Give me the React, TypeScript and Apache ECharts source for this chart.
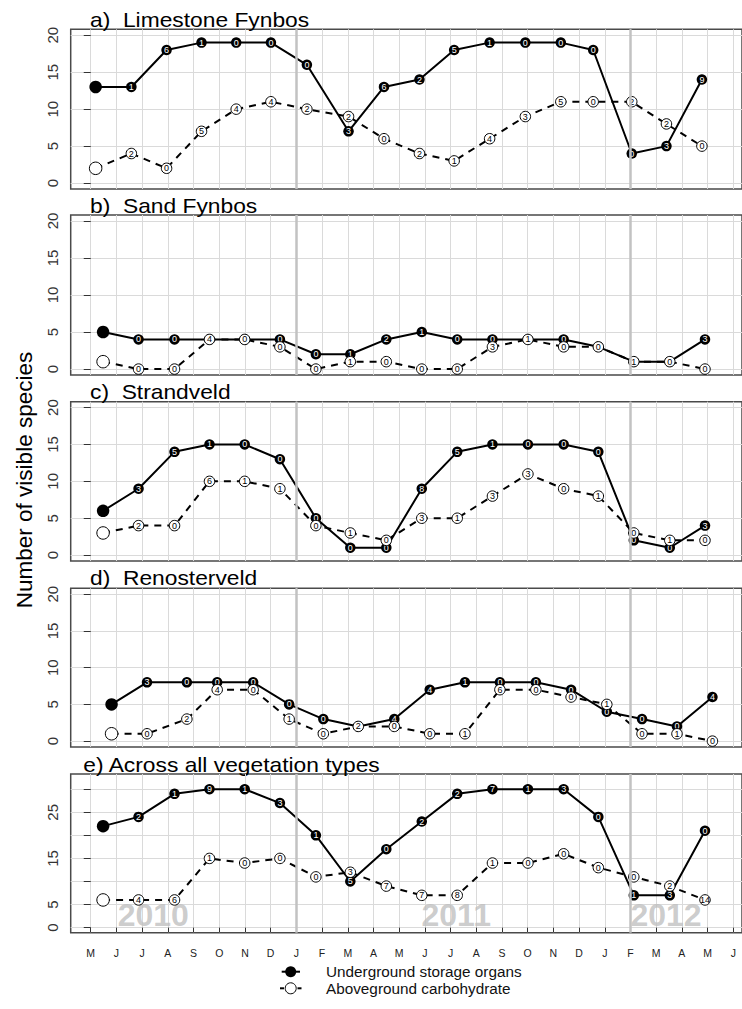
import React, { useEffect, useRef } from "react";
import * as echarts from "echarts";

const FONT = "'Liberation Sans', Arial, Helvetica, sans-serif";

// x axis: months from May 2010 (0) to June 2012 (25)
const monthLabels = ["M","J","J","A","S","O","N","D","J","F","M","A","M","J","J","A","S","O","N","D","J","F","M","A","M","J"];
const monthTicks = monthLabels.map((_, i) => i);
const yearLines = [8, 21];
const yearNames = ["2010", "2011", "2012"];
const yearPos = [1.05, 12.87, 21.0];

// sampling dates (month position)
const datesA = [0.19, 1.58, 2.95, 4.31, 5.66, 7.01, 8.41, 10.03, 11.41, 12.79, 14.14, 15.52, 16.91, 18.29, 19.55, 21.05, 22.40, 23.78];
const datesBCE = [0.48, 1.86, 3.26, 4.62, 5.99, 7.36, 8.76, 10.10, 11.50, 12.88, 14.26, 15.63, 17.01, 18.40, 19.75, 21.13, 22.53, 23.90];
const datesD = [0.81, 2.19, 3.74, 4.92, 6.32, 7.72, 9.05, 10.41, 11.81, 13.19, 14.56, 15.92, 17.32, 18.69, 20.08, 21.45, 22.81, 24.19];

// a) Limestone Fynbos
const usoA = [13, 13, 18, 19, 19, 19, 16, 7, 13, 14, 18, 19, 19, 19, 18, 4, 5, 14];
const usoLabA = [null, 1, 6, 1, 0, 0, 0, 3, 6, 2, 5, 1, 0, 0, 0, 0, 3, 9];
const agcA = [2, 4, 2, 7, 10, 11, 10, 9, 6, 4, 3, 6, 9, 11, 11, 11, 8, 5];
const agcLabA = [null, 2, 0, 5, 4, 4, 2, 2, 0, 2, 1, 4, 3, 5, 0, 2, 2, 0];

// b) Sand Fynbos
const usoB = [5, 4, 4, 4, 4, 4, 2, 2, 4, 5, 4, 4, 4, 4, 3, 1, 1, 4];
const usoLabB = [null, 0, 0, 0, 0, 0, 0, 1, 2, 1, 0, 0, 1, 0, 0, 1, 0, 3];
const agcB = [1, 0, 0, 4, 4, 3, 0, 1, 1, 0, 0, 3, 4, 3, 3, 1, 1, 0];
const agcLabB = [null, 0, 0, 4, 0, 0, 0, 1, 0, 0, 0, 3, 1, 0, 0, 1, 0, 0];

// c) Strandveld
const usoC = [6, 9, 14, 15, 15, 13, 5, 1, 1, 9, 14, 15, 15, 15, 14, 2, 1, 4];
const usoLabC = [null, 3, 5, 1, 0, 0, 0, 0, 0, 8, 5, 1, 0, 0, 0, 0, 0, 3];
const agcC = [3, 4, 4, 10, 10, 9, 4, 3, 2, 5, 5, 8, 11, 9, 8, 3, 2, 2];
const agcLabC = [null, 2, 0, 6, 1, 1, 0, 1, 0, 3, 1, 3, 3, 0, 1, 0, 1, 0];

// d) Renosterveld
const usoD = [5, 8, 8, 8, 8, 5, 3, 2, 3, 7, 8, 8, 8, 7, 4, 3, 2, 6];
const usoLabD = [null, 3, 0, 0, 0, 0, 0, 0, 4, 4, 1, 0, 0, 0, 0, 0, 0, 4];
const agcD = [1, 1, 3, 7, 7, 3, 1, 2, 2, 1, 1, 7, 7, 6, 5, 1, 1, 0];
const agcLabD = [null, 0, 2, 4, 0, 1, 0, 2, 0, 0, 1, 6, 0, 0, 1, 0, 1, 0];

// e) Across all vegetation types
const usoE = [22, 24, 29, 30, 30, 27, 20, 10, 17, 23, 29, 30, 30, 30, 24, 7, 7, 21];
const usoLabE = [null, 2, 1, 9, 1, 3, 1, 5, 0, 2, 2, 7, 1, 3, 0, 1, 3, 0];
const agcE = [6, 6, 6, 15, 14, 15, 11, 12, 9, 7, 7, 14, 14, 16, 13, 11, 9, 6];
const agcLabE = [null, 4, 6, 1, 0, 0, 0, 3, 7, 7, 8, 1, 0, 0, 0, 0, 2, 14];

const titles = ["a)  Limestone Fynbos", "b)  Sand Fynbos", "c)  Strandveld", "d)  Renosterveld", "e) Across all vegetation types"];
const yTicksSmall = [0, 5, 10, 15, 20];
const yTicksAll = [0, 5, 10, 15, 20, 25, 30];
const yLabelsAll = [0, 5, 15, 25];

const panels = [
  { dates: datesA, uso: usoA, usoLab: usoLabA, agc: agcA, agcLab: agcLabA },
  { dates: datesBCE, uso: usoB, usoLab: usoLabB, agc: agcB, agcLab: agcLabB },
  { dates: datesBCE, uso: usoC, usoLab: usoLabC, agc: agcC, agcLab: agcLabC },
  { dates: datesD, uso: usoD, usoLab: usoLabD, agc: agcD, agcLab: agcLabD },
  { dates: datesBCE, uso: usoE, usoLab: usoLabE, agc: agcE, agcLab: agcLabE },
];

const gridTops = [29.3, 215, 401.7, 588.3, 774];
const gridHeights = [159.7, 160, 159.3, 158.7, 158.7];
const titleYs = [20.5, 206.5, 392, 578.5, 765];
const titleXs = [90, 90, 90, 90, 83.3];

export default function App() {
  const ref = useRef<HTMLDivElement>(null);
  useEffect(() => {
    if (!ref.current) return;
    const chart = echarts.init(ref.current, undefined, { renderer: "svg" });
    const grid: any[] = [];
    const xAxis: any[] = [];
    const yAxis: any[] = [];
    const series: any[] = [];
    panels.forEach((p, i) => {
      const isE = i === 4;
      grid.push({
        left: 70.7,
        top: gridTops[i],
        width: 680,
        height: gridHeights[i],
        show: true,
        borderColor: "#4a4a4a",
        borderWidth: 1.5,
        backgroundColor: "transparent",
      });
      xAxis.push({
        type: "value",
        gridIndex: i,
        min: -0.78,
        max: 25.34,
        axisLine: { show: false },
        axisTick: { show: isE, customValues: monthTicks, length: 5, lineStyle: { color: "#333", width: 1 } },
        axisLabel: {
          show: isE,
          customValues: monthTicks,
          formatter: (v: number) => monthLabels[Math.round(v)] ?? "",
          fontSize: 10.5,
          fontFamily: FONT,
          color: "#222",
          margin: 15,
        },
        splitLine: { show: true, lineStyle: { color: "#dadada", width: 1 } },
      });
      const ticks = isE ? yTicksAll : yTicksSmall;
      yAxis.push({
        type: "value",
        gridIndex: i,
        min: isE ? -1.1 : -0.8,
        max: isE ? 33.3 : 20.8,
        axisLine: { show: false },
        axisTick: { show: true, customValues: ticks, length: 7, lineStyle: { color: "#333", width: 1 } },
        axisLabel: {
          customValues: isE ? yLabelsAll : ticks,
          rotate: 90,
          fontSize: 15,
          fontFamily: FONT,
          color: "#333",
          margin: 11,
        },
        splitLine: { show: true, lineStyle: { color: "#dadada", width: 1 } },
      });
      series.push({
        type: "line",
        xAxisIndex: i,
        yAxisIndex: i,
        data: [],
        silent: true,
        z: 1,
        markLine: {
          silent: true,
          symbol: ["none", "none"],
          label: { show: false },
          lineStyle: { color: "#c2c2c2", width: 2.5, type: "solid" },
          data: yearLines.map((v) => ({ xAxis: v })),
        },
      });
      const symSize = (_v: any, prm: any) => (prm.dataIndex === 0 ? 12.5 : 10.5);
      series.push({
        type: "line",
        xAxisIndex: i,
        yAxisIndex: i,
        z: 3,
        showAllSymbol: true,
        symbol: "circle",
        symbolSize: symSize,
        lineStyle: { color: "#000", width: 2 },
        itemStyle: { color: "#000" },
        label: { show: true, position: "inside", formatter: "{b}", color: "#fff", fontSize: 9, fontFamily: FONT },
        data: p.dates.map((d, k) => ({ value: [d, p.uso[k]], name: p.usoLab[k] == null ? "" : String(p.usoLab[k]) })),
      });
      series.push({
        type: "line",
        xAxisIndex: i,
        yAxisIndex: i,
        z: 4,
        showAllSymbol: true,
        symbol: "circle",
        symbolSize: symSize,
        lineStyle: { color: "#000", width: 2, type: [7, 6] },
        itemStyle: { color: "#fff", borderColor: "#000", borderWidth: 1 },
        label: { show: true, position: "inside", formatter: "{b}", color: "#000", fontSize: 9, fontFamily: FONT },
        data: p.dates.map((d, k) => ({ value: [d, p.agc[k]], name: p.agcLab[k] == null ? "" : String(p.agcLab[k]) })),
      });
    });
    series.push({
      type: "scatter",
      xAxisIndex: 4,
      yAxisIndex: 4,
      z: 2,
      silent: true,
      symbolSize: 0,
      label: {
        show: true,
        position: [0, 0],
        align: "left",
        verticalAlign: "bottom",
        formatter: "{b}",
        fontSize: 32,
        fontWeight: "bold",
        fontFamily: FONT,
        color: "#bfbfbf",
      },
      data: yearNames.map((y, k) => ({ value: [yearPos[k], -0.8], name: y })),
    });

    const graphic: any[] = [];
    titles.forEach((t, i) => {
      graphic.push({
        type: "text",
        x: titleXs[i],
        y: titleYs[i],
        scaleX: 1.14,
        style: { text: t, fontSize: 20, fontFamily: FONT, fill: "#000", align: "left", verticalAlign: "middle" },
      });
    });
    graphic.push({
      type: "text",
      x: 24,
      y: 480,
      rotation: Math.PI / 2,
      style: { text: "Number of visible species", fontSize: 22.5, fontFamily: FONT, fill: "#000", align: "center", verticalAlign: "middle" },
    });
    graphic.push(
      { type: "line", shape: { x1: 281.7, y1: 971.7, x2: 300, y2: 971.7 }, style: { stroke: "#000", lineWidth: 2 } },
      { type: "circle", shape: { cx: 290.7, cy: 971.7, r: 5.5 }, style: { fill: "#000" } },
      { type: "line", shape: { x1: 280, y1: 988.3, x2: 284, y2: 988.3 }, style: { stroke: "#000", lineWidth: 2 } },
      { type: "line", shape: { x1: 297.5, y1: 988.3, x2: 301.5, y2: 988.3 }, style: { stroke: "#000", lineWidth: 2 } },
      { type: "circle", shape: { cx: 290.7, cy: 988.3, r: 5.5 }, style: { fill: "#fff", stroke: "#000", lineWidth: 1 } },
      { type: "text", x: 326, y: 971.7, style: { text: "Underground storage organs", fontSize: 15.3, fontFamily: FONT, fill: "#111", verticalAlign: "middle" } },
      { type: "text", x: 326, y: 988.3, style: { text: "Aboveground carbohydrate", fontSize: 15.3, fontFamily: FONT, fill: "#111", verticalAlign: "middle" } }
    );

    chart.setOption({
      animation: false,
      backgroundColor: "#fff",
      textStyle: { fontFamily: FONT },
      grid,
      xAxis,
      yAxis,
      series,
      graphic,
    });
    return () => chart.dispose();
  }, []);
  return <div ref={ref} style={{ position: "absolute", left: 0, top: 0, width: 742, height: 1009 }} />;
}
